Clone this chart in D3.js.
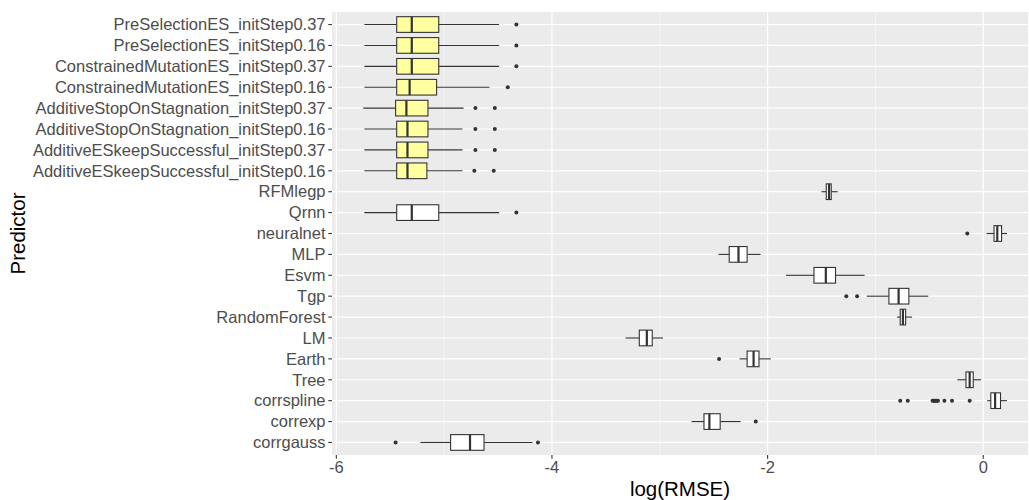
<!DOCTYPE html>
<html>
<head>
<meta charset="utf-8">
<script src="https://cdn.jsdelivr.net/npm/d3@7"></script>
<style>
  body { margin: 0; background: #fff; }
  text { font-family: "Liberation Sans", Arial, sans-serif; }
</style>
</head>
<body>
<svg id="chart"></svg>
<script>
// Categories, top to bottom
const categories = [
  "PreSelectionES_initStep0.37", "PreSelectionES_initStep0.16",
  "ConstrainedMutationES_initStep0.37", "ConstrainedMutationES_initStep0.16",
  "AdditiveStopOnStagnation_initStep0.37", "AdditiveStopOnStagnation_initStep0.16",
  "AdditiveESkeepSuccessful_initStep0.37", "AdditiveESkeepSuccessful_initStep0.16",
  "RFMlegp", "Qrnn", "neuralnet", "MLP", "Esvm", "Tgp", "RandomForest",
  "LM", "Earth", "Tree", "corrspline", "correxp", "corrgauss"
];

// Box statistics (log RMSE)
const whiskerLow = [-5.74, -5.74, -5.74, -5.74, -5.75, -5.74, -5.74, -5.74, -1.50, -5.74, 0.03, -2.455, -1.83, -1.08, -0.80, -3.317, -2.26, -0.24, 0.037, -2.705, -5.22];
const q1 = [-5.44, -5.44, -5.44, -5.44, -5.45, -5.44, -5.44, -5.44, -1.456, -5.44, 0.10, -2.356, -1.57, -0.875, -0.77, -3.19, -2.19, -0.16, 0.07, -2.59, -4.94];
const median = [-5.30, -5.30, -5.30, -5.32, -5.35, -5.34, -5.34, -5.34, -1.43, -5.30, 0.13, -2.27, -1.46, -0.785, -0.745, -3.12, -2.13, -0.126, 0.11, -2.54, -4.76];
const q3 = [-5.05, -5.05, -5.05, -5.07, -5.15, -5.15, -5.15, -5.16, -1.41, -5.05, 0.17, -2.19, -1.37, -0.69, -0.72, -3.07, -2.08, -0.093, 0.16, -2.44, -4.63];
const whiskerHigh = [-4.49, -4.49, -4.49, -4.58, -4.82, -4.83, -4.83, -4.83, -1.35, -4.49, 0.22, -2.065, -1.10, -0.51, -0.66, -2.97, -1.97, -0.02, 0.22, -2.25, -4.18];
const outliers = [
  [-4.33], [-4.33], [-4.33], [-4.41],
  [-4.71, -4.53], [-4.71, -4.53], [-4.71, -4.53], [-4.72, -4.54],
  [], [-4.33], [-0.148], [], [], [-1.27, -1.17], [], [], [-2.45], [],
  [-0.77, -0.70, -0.47, -0.46, -0.45, -0.44, -0.43, -0.42, -0.36, -0.29, -0.126],
  [-2.11], [-5.45, -4.13]
];
// the ES variants are highlighted
const highlighted = categories.map(c => c.includes("_initStep"));

const xTicks = [-6, -4, -2, 0];
const xMinor = [-5, -3, -1];

// Layout
const width = 1029, height = 500;
const panel = { left: 332, top: 12, right: 1028, bottom: 455 };

const svg = d3.select("#chart")
    .attr("width", width)
    .attr("height", height);

const x = d3.scaleLinear()
    .domain([-6.04, 0.415])
    .range([panel.left, panel.right]);

const y = d3.scaleBand()
    .domain(categories)
    .range([panel.top, panel.bottom])
    .paddingOuter(0.1)
    .paddingInner(0);

const bw = y.bandwidth();
const boxH = bw * 0.75;
const cy = c => y(c) + bw / 2;

// Panel background
svg.append("rect")
    .attr("x", panel.left)
    .attr("y", panel.top)
    .attr("width", panel.right - panel.left)
    .attr("height", panel.bottom - panel.top)
    .attr("fill", "#ebebeb");

// Grid lines
svg.append("g").selectAll("line")
    .data(xMinor)
    .join("line")
    .attr("x1", d => x(d)).attr("x2", d => x(d))
    .attr("y1", panel.top).attr("y2", panel.bottom)
    .attr("stroke", "#fff")
    .attr("stroke-width", 0.6);

svg.append("g").selectAll("line")
    .data(xTicks)
    .join("line")
    .attr("x1", d => x(d)).attr("x2", d => x(d))
    .attr("y1", panel.top).attr("y2", panel.bottom)
    .attr("stroke", "#fff")
    .attr("stroke-width", 1.2);

svg.append("g").selectAll("line")
    .data(categories)
    .join("line")
    .attr("x1", panel.left).attr("x2", panel.right)
    .attr("y1", d => cy(d)).attr("y2", d => cy(d))
    .attr("stroke", "#fff")
    .attr("stroke-width", 1.2);

// Boxes
const boxes = svg.append("g").selectAll("g")
    .data(categories)
    .join("g");

boxes.append("line")
    .attr("x1", (d, i) => x(whiskerLow[i]))
    .attr("x2", (d, i) => x(q1[i]))
    .attr("y1", d => cy(d)).attr("y2", d => cy(d))
    .attr("stroke", "#333").attr("stroke-width", 1.1);

boxes.append("line")
    .attr("x1", (d, i) => x(q3[i]))
    .attr("x2", (d, i) => x(whiskerHigh[i]))
    .attr("y1", d => cy(d)).attr("y2", d => cy(d))
    .attr("stroke", "#333").attr("stroke-width", 1.1);

boxes.append("rect")
    .attr("x", (d, i) => x(q1[i]))
    .attr("width", (d, i) => x(q3[i]) - x(q1[i]))
    .attr("y", d => cy(d) - boxH / 2)
    .attr("height", boxH)
    .attr("fill", (d, i) => highlighted[i] ? "#ffffa0" : "#fff")
    .attr("stroke", "#333").attr("stroke-width", 1.1);

boxes.append("line")
    .attr("x1", (d, i) => x(median[i]))
    .attr("x2", (d, i) => x(median[i]))
    .attr("y1", d => cy(d) - boxH / 2)
    .attr("y2", d => cy(d) + boxH / 2)
    .attr("stroke", "#333").attr("stroke-width", 2.2);

boxes.each(function(d, i) {
    d3.select(this).selectAll("circle")
        .data(outliers[i])
        .join("circle")
        .attr("cx", v => x(v))
        .attr("cy", cy(d))
        .attr("r", 2)
        .attr("fill", "#333");
});

// Y axis ticks and labels
const yAxis = svg.append("g");
yAxis.selectAll("line")
    .data(categories)
    .join("line")
    .attr("x1", panel.left - 3.7).attr("x2", panel.left)
    .attr("y1", d => cy(d)).attr("y2", d => cy(d))
    .attr("stroke", "#333").attr("stroke-width", 1.1);
yAxis.selectAll("text")
    .data(categories)
    .join("text")
    .attr("x", panel.left - 6.5)
    .attr("y", d => cy(d))
    .attr("dy", "0.35em")
    .attr("text-anchor", "end")
    .attr("font-size", 16.5)
    .attr("fill", "#4d4d4d")
    .text(d => d);

// X axis ticks and labels
const xAxis = svg.append("g");
xAxis.selectAll("line")
    .data(xTicks)
    .join("line")
    .attr("x1", d => x(d)).attr("x2", d => x(d))
    .attr("y1", panel.bottom).attr("y2", panel.bottom + 3.7)
    .attr("stroke", "#333").attr("stroke-width", 1.1);
xAxis.selectAll("text")
    .data(xTicks)
    .join("text")
    .attr("x", d => x(d))
    .attr("y", panel.bottom + 18)
    .attr("text-anchor", "middle")
    .attr("font-size", 16.5)
    .attr("fill", "#4d4d4d")
    .text(d => d);

// Axis titles
svg.append("text")
    .attr("x", (panel.left + panel.right) / 2)
    .attr("y", 496)
    .attr("text-anchor", "middle")
    .attr("font-size", 20.5)
    .attr("fill", "#000")
    .text("log(RMSE)");

svg.append("text")
    .attr("transform", `translate(25,${(panel.top + panel.bottom) / 2}) rotate(-90)`)
    .attr("text-anchor", "middle")
    .attr("font-size", 20.5)
    .attr("fill", "#000")
    .text("Predictor");
</script>
</body>
</html>
